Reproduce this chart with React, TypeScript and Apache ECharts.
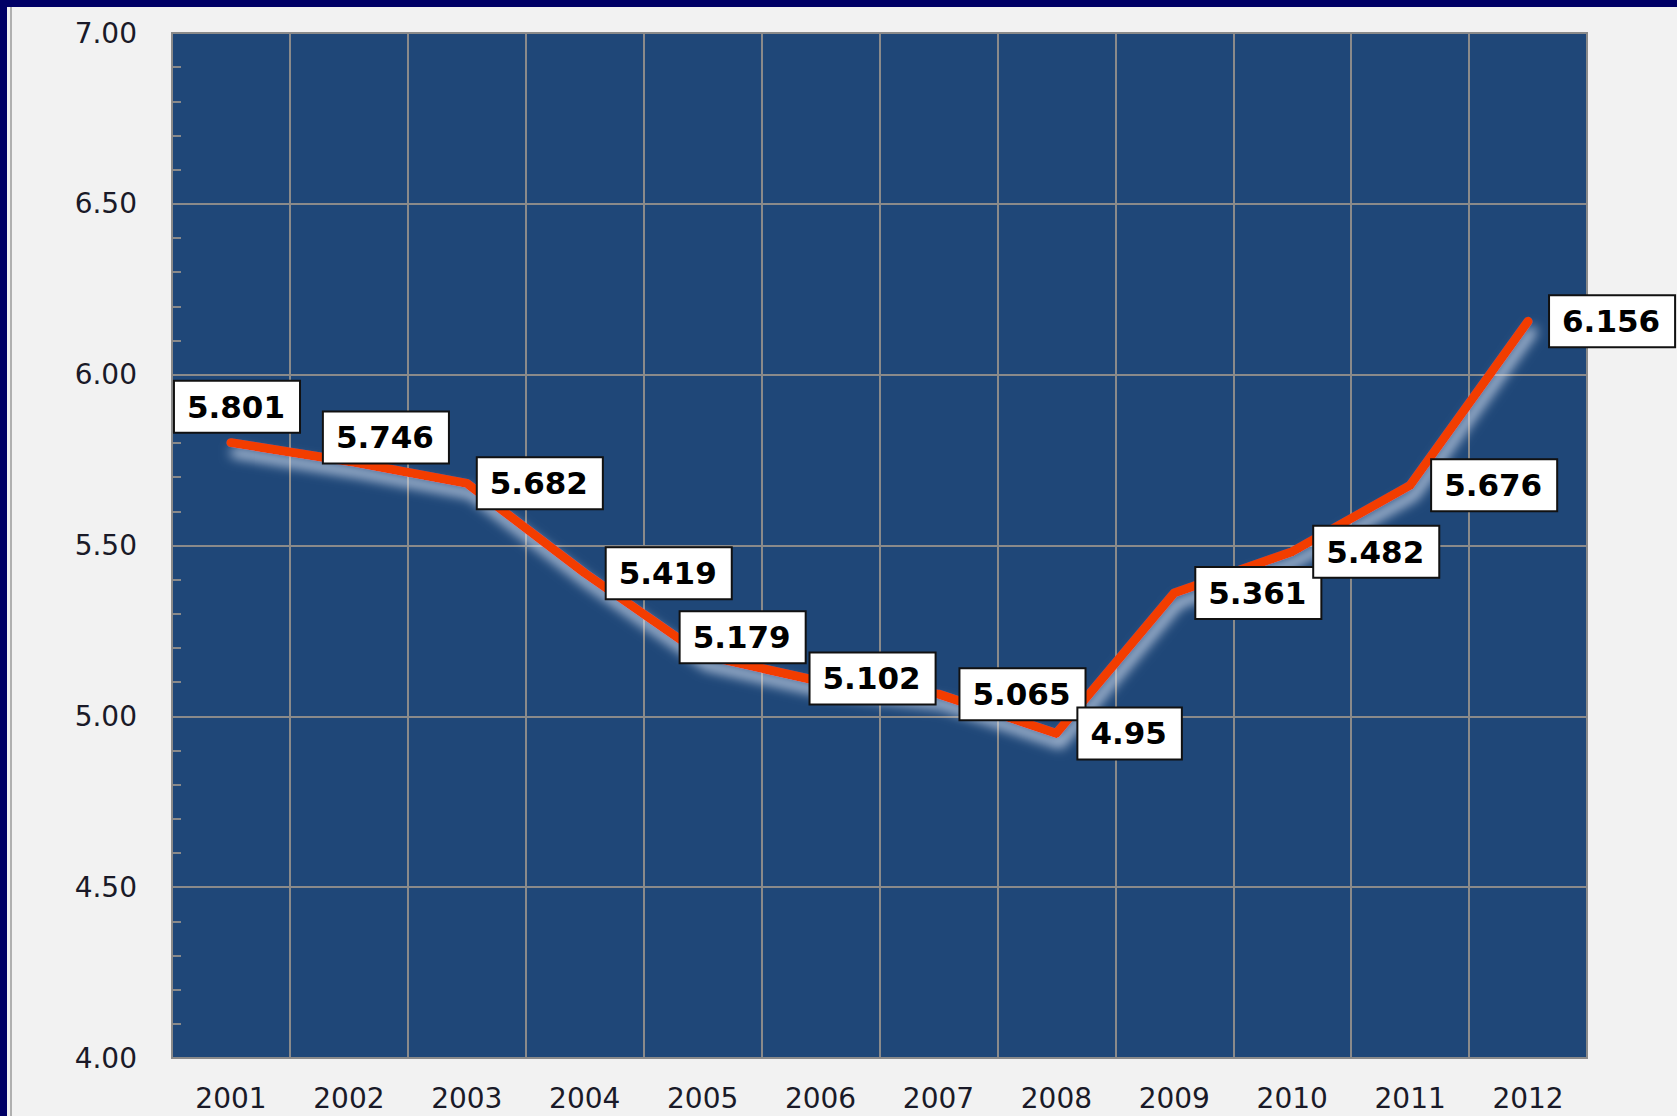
import React, { useEffect, useRef } from "react";
import * as echarts from "echarts";

const years = ["2001", "2002", "2003", "2004", "2005", "2006", "2007", "2008", "2009", "2010", "2011", "2012"];
const values = [5.801, 5.746, 5.682, 5.419, 5.179, 5.102, 5.065, 4.95, 5.361, 5.482, 5.676, 6.156];
const valueLabels = ["5.801", "5.746", "5.682", "5.419", "5.179", "5.102", "5.065", "4.95", "5.361", "5.482", "5.676", "6.156"];

// label nudges (relative placement tweaks, px)
const labelNudge: Record<string, [number, number]> = {
  "2001": [-78, -36],
  "2002": [-47, -24],
  "2003": [-11, 0],
  "2005": [-44, -18],
  "2006": [-32, -3],
};

export default function App() {
  const ref = useRef<HTMLDivElement>(null);
  useEffect(() => {
    if (!ref.current) return;
    const chart = echarts.init(ref.current, undefined, { renderer: "svg" });
    const data = values.map((v, i) => {
      const n = labelNudge[years[i]];
      return n ? { value: v, label: { offset: n } } : { value: v };
    });
    chart.setOption({
      animation: false,
      backgroundColor: "#f2f2f2",
      graphic: [
        { type: "rect", left: 0, top: 0, shape: { width: 1677, height: 7 }, style: { fill: "#000066" }, z: 100 },
        { type: "rect", left: 0, top: 0, shape: { width: 7, height: 1116 }, style: { fill: "#000066" }, z: 100 },
        { type: "rect", left: 10, top: 7, shape: { width: 2, height: 1109 }, style: { fill: "#b0b0b0" }, z: 100 },
      ],
      grid: {
        left: 172,
        top: 33,
        right: 90,
        bottom: 58,
        show: true,
        backgroundColor: "#1f4778",
        borderColor: "#8a8a8a",
        borderWidth: 2,
      },
      xAxis: {
        type: "category",
        data: years,
        boundaryGap: true,
        axisLine: { show: false },
        axisTick: { show: false },
        splitLine: { show: true, interval: 0, lineStyle: { color: "#8a8a8a", width: 2 } },
        axisLabel: {
          interval: 0,
          margin: 26,
          fontFamily: "DejaVu Sans",
          fontSize: 28,
          color: "#1a1a28",
        },
      },
      yAxis: {
        type: "value",
        min: 4,
        max: 7,
        interval: 0.5,
        axisLine: { show: false },
        axisTick: { show: false, inside: true },
        minorTick: { show: true, splitNumber: 5, length: 9, lineStyle: { color: "#8a8a8a", width: 2 } },
        splitLine: { show: true, lineStyle: { color: "#8a8a8a", width: 2 } },
        axisLabel: {
          margin: 35,
          fontFamily: "DejaVu Sans",
          fontSize: 28,
          color: "#1a1a28",
          formatter: (v: number) => v.toFixed(2),
        },
      },
      series: [
        {
          type: "line",
          data,
          symbol: "circle",
          symbolSize: 2,
          itemStyle: { color: "#f23c06" },
          lineStyle: {
            color: "#f23c06",
            width: 9,
            cap: "round",
            join: "round",
            shadowColor: "rgba(225,235,250,0.85)",
            shadowBlur: 12,
            shadowOffsetX: 4,
            shadowOffsetY: 10,
          },
          label: {
            show: true,
            position: "right",
            distance: 21,
            formatter: (p: any) => valueLabels[p.dataIndex],
            fontFamily: "DejaVu Sans",
            fontWeight: "bold",
            fontSize: 31,
            lineHeight: 32,
            color: "#000",
            backgroundColor: "#ffffff",
            borderColor: "#111111",
            borderWidth: 2,
            padding: [9, 14, 9, 12],
          },
          z: 3,
        },
      ],
    });
    return () => chart.dispose();
  }, []);
  return (
    <div
      ref={ref}
      style={{ position: "absolute", left: 0, top: 0, width: 1677, height: 1116 }}
    />
  );
}
